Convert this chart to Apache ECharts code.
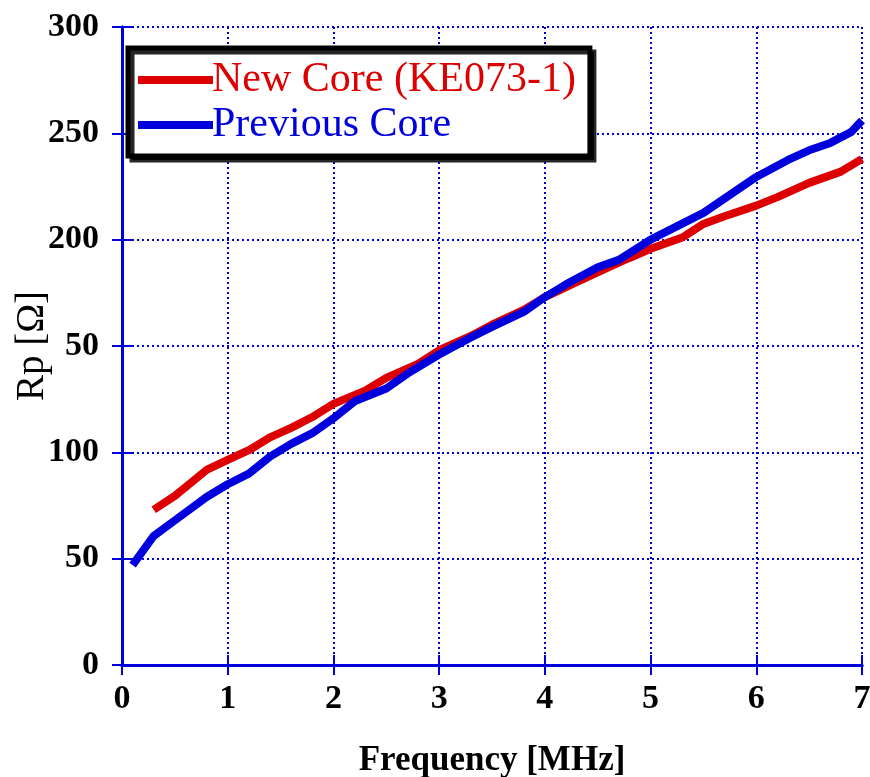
<!DOCTYPE html>
<html><head><meta charset="utf-8">
<script src="https://cdn.jsdelivr.net/npm/echarts@6/dist/echarts.min.js"></script>
<style>html,body{margin:0;padding:0;background:#fff}#c{width:870px;height:777px}</style>
</head><body><div id="c"></div>
<script>
const seriesNames = ['New Core (KE073-1)', 'Previous Core'];
const yTickLabels = ['0', '50', '100', '50', '200', '250', '300'];
const xTickLabels = ['0', '1', '2', '3', '4', '5', '6', '7'];
const newCoreFreq = [0.3,0.5,0.8,1.0,1.2,1.4,1.6,1.8,2.0,2.3,2.5,2.8,3.0,3.3,3.5,3.8,4.0,4.3,4.6,4.8,5.0,5.3,5.5,5.7,6.0,6.2,6.5,6.8,7.0];
const newCoreRp = [73,79.5,91.7,96.4,101,107,111.5,116.6,122.8,129,135,141.6,148,154.7,160,167,173,180,187,191.4,195.7,201,207.4,211,216,220,226.7,232,238];
const prevCoreFreq = [0.1,0.3,0.5,0.8,1.0,1.2,1.4,1.6,1.8,2.0,2.2,2.5,2.7,3.0,3.3,3.5,3.8,4.0,4.2,4.5,4.7,5.0,5.5,6.0,6.3,6.5,6.7,6.9,7.0];
const prevCoreRp = [47,60.7,68,79,85,90,98,104,109,116,124,130,137,146,154,159,166,173,179,187,190.5,200,212.6,229.5,237.5,242,245.5,250.7,256];

const blue = '#0000dd', red = '#dd0000';
const serif = '"Liberation Serif","Times New Roman",serif';
const pair = (xs, ys) => xs.map((x, i) => [x, ys[i]]);

const chart = echarts.init(document.getElementById('c'));
const gridLine = {show: true, lineStyle: {color: blue, type: [2, 3], width: 2}};
chart.setOption({
  animation: false,
  backgroundColor: '#fff',
  grid: {left: 122, right: 8, top: 27, bottom: 112, containLabel: false, outerBoundsMode: 'none'},
  legend: {
    orient: 'vertical', left: 128, top: 48,
    padding: [11, 14, 10, 10], itemGap: 3,
    backgroundColor: '#fff', borderColor: '#000', borderWidth: 5,
    shadowColor: 'rgba(0,0,0,0.85)', shadowOffsetX: 4, shadowOffsetY: 4, shadowBlur: 0,
    icon: 'rect', itemWidth: 75, itemHeight: 8,
    textStyle: {fontFamily: serif, fontSize: 42, padding: [0, 0, 0, -6]},
    data: [
      {name: seriesNames[0], textStyle: {color: red}},
      {name: seriesNames[1], textStyle: {color: blue}}
    ]
  },
  xAxis: [{
    type: 'value', min: 0, max: 7, interval: 1,
    name: 'Frequency [MHz]', nameLocation: 'middle', nameGap: 78, nameMoveOverlap: false,
    nameTextStyle: {fontFamily: serif, fontSize: 35, fontWeight: 'bold', color: '#000'},
    axisLine: {lineStyle: {color: blue, width: 3}},
    axisTick: {inside: true, length: 10, lineStyle: {color: blue, width: 2}},
    axisLabel: {fontFamily: serif, fontSize: 34, fontWeight: 'bold', color: '#000', margin: 17,
      formatter: (v) => xTickLabels[Math.round(v)]},
    splitLine: gridLine
  }, {
    type: 'value', min: 0, max: 7, interval: 1, position: 'top',
    axisLine: {lineStyle: {color: blue, width: 3}},
    axisTick: {inside: true, length: 10, lineStyle: {color: blue, width: 2}},
    axisLabel: {show: false}, splitLine: {show: false}
  }],
  yAxis: [{
    type: 'value', min: 0, max: 300, interval: 50,
    name: 'Rp [Ω]', nameLocation: 'middle', nameGap: 70, nameMoveOverlap: false,
    nameTextStyle: {fontFamily: serif, fontSize: 39, color: '#000'},
    axisLine: {lineStyle: {color: blue, width: 3}},
    axisTick: {inside: true, length: 10, lineStyle: {color: blue, width: 2}},
    axisLabel: {fontFamily: serif, fontSize: 34, fontWeight: 'bold', color: '#000', margin: 23,
      formatter: (v) => yTickLabels[Math.round(v / 50)]},
    splitLine: gridLine
  }, {
    type: 'value', min: 0, max: 300, interval: 50, position: 'right',
    axisLine: {lineStyle: {color: blue, width: 3}},
    axisTick: {inside: true, length: 10, lineStyle: {color: blue, width: 2}},
    axisLabel: {show: false}, splitLine: {show: false}
  }],
  series: [
    {name: seriesNames[0], type: 'line', data: pair(newCoreFreq, newCoreRp), showSymbol: false,
      lineStyle: {color: red, width: 8}, itemStyle: {color: red}, z: 3},
    {name: seriesNames[1], type: 'line', data: pair(prevCoreFreq, prevCoreRp), showSymbol: false,
      lineStyle: {color: blue, width: 8}, itemStyle: {color: blue}, z: 4}
  ]
});
</script></body></html>
